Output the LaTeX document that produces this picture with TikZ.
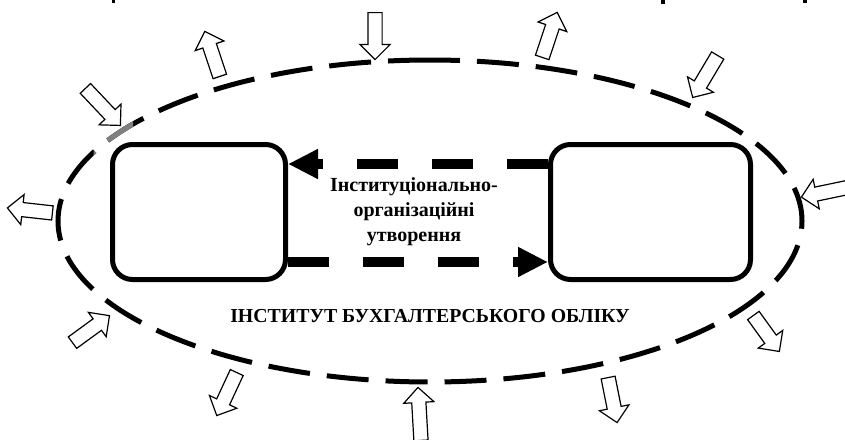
\documentclass[tikz,border=0pt]{standalone}
\usepackage{fontspec}
\setmainfont{Liberation Serif}
\usetikzlibrary{arrows.meta,shapes.arrows,calc}
\definecolor{midgray}{RGB}{128,128,128}
\newcommand\holarrow[3]{%
  \path let \p1=($(#3)-(#2)$), \n1={atan2(\y1,\x1)}, \n2={veclen(\x1,\y1)} in
    node[hol, rotate=\n1, minimum height=\n2, anchor=tail] (#1) at (#2) {};}
\begin{document}
\begin{tikzpicture}[x=1pt,y=-1pt,
  box/.style={draw, line width=5pt, rounded corners=20pt, inner sep=0pt, minimum height=135pt},
  ell/.style={line width=5pt, dash pattern=on 42pt off 17pt},
  flow/.style={line width=10pt, dash pattern=on 41pt off 34pt, -{Triangle[length=30pt,width=28pt]}},
  hol/.style={single arrow, draw, fill=white, line width=1.2pt, inner xsep=0pt, inner ysep=6.5pt,
    single arrow head extend=8pt, single arrow tip angle=90, minimum width=0pt},
  lbl/.style={font=\bfseries\fontsize{20}{25}\selectfont, align=center, inner sep=0pt}
]
\useasboundingbox (0,0) rectangle (845,439);
% remnants at the top edge
\fill (112,0) rectangle (115,3);
\fill (661,0) rectangle (665,4);
\fill (803,0) rectangle (807,3);
% ellipse
\draw[ell] (430,60) arc[start angle=270, end angle=-90, x radius=372, y radius=161];
\begin{scope}
  \clip (93.5,115) rectangle (133,160);
  \draw[ell, midgray] (430,60) arc[start angle=270, end angle=-90, x radius=372, y radius=161];
\end{scope}
% boxes
\node[box, minimum width=173pt] (L) at (199,212) {};
\node[box, minimum width=200pt] (R) at (650.5,212) {};
% flows
\draw[flow] ($(R.west)+(0,-48)$) -- ($(L.east)+(0,-48)$);
\draw[flow] ($(L.east)+(0,50)$) -- ($(R.west)+(0,50)$);
% labels
\node[lbl] (mid) at (414,212) {Інституціонально-\\організаційні\\утворення};
\node[lbl, font=\bfseries\fontsize{19.8}{24}\selectfont] (inst) at (430,316) {ІНСТИТУТ БУХГАЛТЕРСЬКОГО ОБЛІКУ};
% hollow block arrows
\holarrow{a1}{375,12}{375,59}
\holarrow{a2}{220,77}{205,32}
\holarrow{a3}{542,58}{557,13}
\holarrow{a4}{718,55}{693,97}
\holarrow{a5}{850,187}{802,197}
\holarrow{a6}{753,315}{779,351}
\holarrow{a7}{608,377}{617,422}
\holarrow{a8}{421,441}{418,388}
\holarrow{a9}{237,372}{217,415}
\holarrow{a10}{72,343}{109,316}
\holarrow{a11}{53,213}{8,208}
\holarrow{a12}{85,88}{120,125}
\end{tikzpicture}
\end{document}
